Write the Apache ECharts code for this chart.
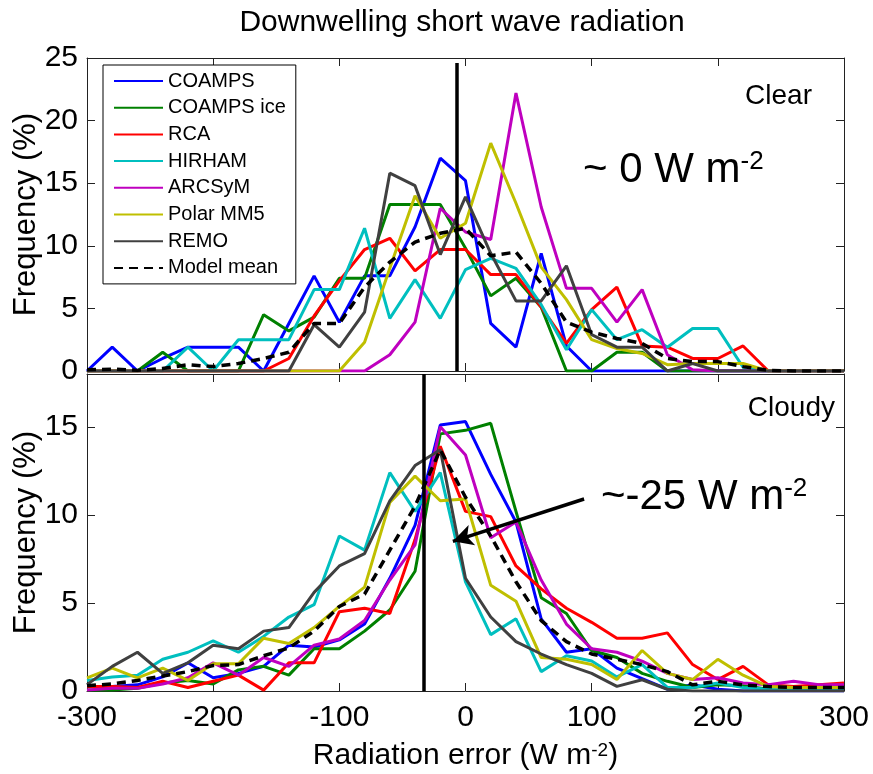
<!DOCTYPE html>
<html>
<head>
<meta charset="utf-8">
<title>Downwelling short wave radiation</title>
<script src="https://cdn.jsdelivr.net/npm/echarts@6/dist/echarts.min.js"></script>
<style>
  html, body { margin: 0; padding: 0; background: #fff; }
  #chart { width: 873px; height: 774px; }
</style>
</head>
<body>
<div id="chart"></div>
<script>
// bin centres (W m-2)
const xBins = [-300, -280, -260, -240, -220, -200, -180, -160, -140, -120, -100, -80, -60, -40, -20,
  0, 20, 40, 60, 80, 100, 120, 140, 160, 180, 200, 220, 240, 260, 280, 300];

const modelNames = ['COAMPS', 'COAMPS ice', 'RCA', 'HIRHAM', 'ARCSyM', 'Polar MM5', 'REMO', 'Model mean'];
const modelColors = ['#0000ff', '#008000', '#ff0000', '#00bfbf', '#bf00bf', '#bfbf00', '#404040', '#000000'];

// Clear sky frequencies (%)
const coampsClear = [0, 1.9, 0, 1.0, 1.9, 1.9, 1.9, 0, 3.8, 7.6, 3.9, 7.6, 7.6, 11.5, 17.0, 15.2, 3.8, 1.9, 9.4, 2.0, 0, 0, 0, 0, 0, 0, 0, 0, 0, 0, 0];
const iceClear = [0, 0, 0, 1.5, 0, 0, 0, 4.5, 3.2, 4.3, 7.4, 7.4, 13.3, 13.3, 13.3, 9.8, 6.0, 7.4, 5.1, 0, 0, 1.5, 1.5, 0, 0, 0, 0, 0, 0, 0, 0];
const rcaClear = [0, 0, 0, 0, 0, 0, 0, 0, 1.0, 4.4, 7.2, 9.7, 10.6, 8.0, 9.7, 9.7, 7.7, 7.7, 5.1, 2.2, 4.9, 6.7, 2.0, 1.9, 1.0, 1.0, 2.0, 0, 0, 0, 0];
const hirhamClear = [0, 0, 0, 0, 1.9, 0, 2.5, 2.5, 2.5, 6.5, 6.5, 11.4, 4.2, 7.3, 4.2, 8.1, 9.0, 8.2, 5.3, 1.7, 4.9, 2.5, 3.3, 1.9, 3.4, 3.4, 0.3, 0, 0, 0, 0];
const arcsymClear = [0, 0, 0, 0, 0, 0, 0, 0, 0, 0, 0, 0, 1.3, 3.9, 13.0, 11.1, 10.5, 22.2, 13.1, 6.6, 6.6, 3.9, 6.5, 1.3, 0.1, 0, 0, 0, 0, 0, 0];
const polarClear = [0, 0, 0, 0, 0, 0, 0, 0, 0, 0, 0, 2.3, 8.2, 14.0, 10.6, 11.8, 18.2, 13.4, 8.3, 5.7, 2.5, 1.8, 1.4, 0.5, 0.6, 0.6, 0.6, 0, 0, 0, 0];
const remoClear = [0, 0, 0, 0, 0, 0, 0, 0, 0, 3.7, 1.9, 4.7, 15.8, 14.8, 9.3, 13.9, 9.4, 5.6, 5.6, 8.4, 2.9, 1.9, 1.9, 0, 0.6, 0, 0, 0, 0, 0, 0];
const meanClear = [0.1, 0.15, 0.05, 0.2, 0.5, 0.35, 0.6, 1.0, 1.5, 3.8, 3.8, 6.7, 8.7, 10.3, 11.0, 11.4, 9.2, 9.5, 7.0, 3.9, 3.1, 2.6, 2.2, 1.0, 0.75, 0.75, 0.35, 0.05, 0, 0, 0];

// Cloudy sky frequencies (%)
const coampsCloudy = [0.25, 0.25, 0.35, 0.8, 1.6, 0.75, 1.0, 1.4, 2.6, 2.5, 2.9, 3.8, 6.4, 9.4, 15.1, 15.3, 12.3, 9.6, 4.1, 2.2, 2.4, 1.3, 0.7, 0.1, 0.35, 0.1, 0, 0, 0, 0, 0];
const iceCloudy = [0.05, 0.05, 0.15, 0.45, 0.6, 0.4, 1.2, 1.4, 0.9, 2.4, 2.4, 3.4, 4.6, 6.8, 14.6, 14.8, 15.2, 10.2, 5.3, 4.4, 2.3, 1.9, 1.0, 0.55, 0.2, 0.35, 0.3, 0.1, 0.1, 0.1, 0.1];
const rcaCloudy = [0.25, 0.25, 0.2, 0.55, 0.2, 0.55, 0.9, 0.05, 1.6, 1.6, 4.5, 4.7, 4.4, 8.6, 13.9, 10.2, 9.9, 7.1, 5.8, 4.7, 3.9, 3.0, 3.0, 3.3, 1.5, 0.65, 1.4, 0.35, 0.25, 0.35, 0.45];
const hirhamCloudy = [0.6, 0.8, 0.9, 1.8, 2.2, 2.85, 2.2, 3.1, 4.2, 4.9, 8.8, 8.0, 12.4, 10.2, 12.4, 6.2, 3.2, 4.1, 1.1, 2.0, 1.7, 0.8, 1.5, 0.2, 0.2, 0.45, 0.2, 0.1, 0.1, 0.1, 0.1];
const arcsymCloudy = [0.05, 0.15, 0.15, 0.4, 0.75, 1.6, 0.9, 1.9, 1.4, 2.6, 2.95, 4.0, 6.3, 8.3, 15.0, 13.4, 8.7, 9.6, 6.3, 3.8, 2.4, 2.2, 1.7, 1.0, 0.65, 0.75, 0.45, 0.35, 0.55, 0.35, 0.35];
const polarCloudy = [0.75, 1.3, 0.75, 1.3, 0.6, 1.55, 1.55, 3.0, 2.7, 3.6, 4.8, 5.9, 10.7, 12.2, 10.8, 10.9, 6.0, 5.1, 1.9, 1.8, 1.5, 0.65, 2.3, 1.0, 0.65, 1.8, 0.9, 0.25, 0.2, 0.2, 0.2];
const remoCloudy = [0.36, 1.4, 2.2, 1.0, 1.6, 2.6, 2.4, 3.4, 3.6, 5.6, 7.1, 7.8, 10.8, 12.8, 13.7, 6.4, 4.2, 2.8, 2.1, 1.5, 1.0, 0.26, 0.64, 0.1, 0, 0, 0, 0, 0, 0, 0];
const meanCloudy = [0.3, 0.4, 0.6, 0.85, 1.1, 1.45, 1.5, 2.0, 2.45, 3.4, 4.8, 5.5, 8.0, 10.5, 13.7, 11.0, 8.8, 6.2, 4.0, 2.8, 2.1, 1.8, 1.5, 1.1, 0.35, 0.55, 0.35, 0.25, 0.2, 0.2, 0.2];

// mean bias lines (W m-2) and arrow ends [x, %]
const clearBias = -7;
const cloudyBias = -33;
const arrowFrom = [94, 10.9];
const arrowTo = [-10, 8.5];

const clearSets = [coampsClear, iceClear, rcaClear, hirhamClear, arcsymClear, polarClear, remoClear, meanClear];
const cloudySets = [coampsCloudy, iceCloudy, rcaCloudy, hirhamCloudy, arcsymCloudy, polarCloudy, remoCloudy, meanCloudy];

const FONT = 'Liberation Sans, Arial, sans-serif';

function pairs(vals) {
  return xBins.map(function (x, i) { return [x, vals[i]]; });
}

function makeSeries(sets, axisIdx) {
  return sets.map(function (vals, i) {
    const isMean = i === sets.length - 1;
    return {
      name: modelNames[i],
      type: 'line',
      xAxisIndex: axisIdx,
      yAxisIndex: axisIdx,
      data: pairs(vals),
      symbol: 'none',
      smooth: false,
      lineStyle: {
        color: modelColors[i],
        width: isMean ? 3.5 : 3,
        type: isMean ? [9, 6] : 'solid'
      },
      itemStyle: { color: modelColors[i] },
      z: isMean ? 4 : 3
    };
  });
}

const clearSeries = makeSeries(clearSets, 0);
const cloudySeries = makeSeries(cloudySets, 2);

clearSeries[7].markLine = {
  silent: true,
  animation: false,
  symbol: ['none', 'none'],
  label: { show: false },
  lineStyle: { color: '#000', width: 3.5, type: 'solid' },
  data: [[{ coord: [clearBias, 24.6] }, { coord: [clearBias, 0] }]]
};

cloudySeries[7].markLine = {
  silent: true,
  animation: false,
  symbol: ['none', 'none'],
  label: { show: false },
  lineStyle: { color: '#000', width: 3.5, type: 'solid' },
  data: [
    [{ coord: [cloudyBias, 18] }, { coord: [cloudyBias, 0] }],
    [{ coord: arrowFrom, symbol: 'none' }, { coord: arrowTo, symbol: 'arrow', symbolSize: [16, 20] }]
  ]
};

function xAx(grid, pos, labels) {
  return {
    type: 'value', gridIndex: grid, position: pos,
    min: -300, max: 300, interval: 100,
    axisLine: { show: true, onZero: false, lineStyle: { color: '#222', width: 1 } },
    axisTick: { show: true, inside: true, length: 8, lineStyle: { color: '#222' } },
    axisLabel: { show: labels, fontSize: 30, color: '#000', fontFamily: FONT, margin: 12 },
    splitLine: { show: false }
  };
}

function yAx(grid, pos, max, labels) {
  return {
    type: 'value', gridIndex: grid, position: pos,
    min: 0, max: max, interval: 5,
    axisLine: { show: true, onZero: false, lineStyle: { color: '#222', width: 1 } },
    axisTick: { show: true, inside: true, length: 8, lineStyle: { color: '#222' } },
    axisLabel: { show: labels, fontSize: 30, color: '#000', fontFamily: FONT, margin: 9, showMaxLabel: max === 25 },
    splitLine: { show: false }
  };
}

const chart = echarts.init(document.getElementById('chart'), null, { renderer: 'canvas' });

const xAxes = [xAx(0, 'bottom', false), xAx(0, 'top', false), xAx(1, 'bottom', true), xAx(1, 'top', false)];
xAxes[2].name = 'Radiation error (W m{sup|-2})';
xAxes[2].nameLocation = 'middle';
xAxes[2].nameGap = 50;
xAxes[2].nameMoveOverlap = false;
xAxes[2].nameTextStyle = {
  fontSize: 30, color: '#000', fontFamily: FONT,
  rich: { sup: { fontSize: 19, fontFamily: FONT, color: '#000', verticalAlign: 'top' } }
};

const yAxes = [yAx(0, 'left', 25, true), yAx(0, 'right', 25, false), yAx(1, 'left', 18, true), yAx(1, 'right', 18, false)];
[0, 2].forEach(function (i) {
  yAxes[i].name = 'Frequency (%)';
  yAxes[i].nameLocation = 'middle';
  yAxes[i].nameGap = 45;
  yAxes[i].nameMoveOverlap = false;
  yAxes[i].nameTextStyle = { fontSize: 31, color: '#000', fontFamily: FONT };
});

let option = {
  animation: false,
  backgroundColor: '#fff',
  title: {
    text: 'Downwelling short wave radiation',
    left: 457, top: 3, textAlign: 'center',
    textStyle: { fontSize: 30, fontWeight: 'normal', color: '#000', fontFamily: FONT }
  },
  legend: {
    data: modelNames,
    orient: 'vertical',
    left: 103, top: 65,
    itemWidth: 49, itemHeight: 14, itemGap: 6.7,
    padding: [6, 10],
    backgroundColor: '#fff',
    borderColor: '#000', borderWidth: 1,
    itemStyle: { opacity: 0 },
    textStyle: { fontSize: 20, lineHeight: 20, color: '#000', fontFamily: FONT },
    selectedMode: false,
    z: 10
  },
  grid: [
    { left: 87, right: 29, top: 58, height: 313, show: false, outerBoundsMode: 'none', containLabel: false },
    { left: 87, right: 29, top: 374, height: 317, show: false, outerBoundsMode: 'none', containLabel: false }
  ],
  xAxis: xAxes,
  yAxis: yAxes,
  graphic: [
    { type: 'text', x: 812, y: 96, style: { text: 'Clear', fontSize: 28, fontFamily: FONT, fill: '#000', align: 'right', verticalAlign: 'middle' } },
    { type: 'text', x: 835, y: 408, style: { text: 'Cloudy', fontSize: 28, fontFamily: FONT, fill: '#000', align: 'right', verticalAlign: 'middle' } },
    {
      type: 'text', x: 583, y: 170,
      style: {
        text: '~ 0 W m{sup|-2}', fontSize: 42, fontFamily: FONT, fill: '#000', verticalAlign: 'middle',
        rich: { sup: { fontSize: 26, fontFamily: FONT, fill: '#000', verticalAlign: 'top' } }
      }
    },
    {
      type: 'text', x: 601, y: 497,
      style: {
        text: '~-25 W m{sup|-2}', fontSize: 42, fontFamily: FONT, fill: '#000', verticalAlign: 'middle',
        rich: { sup: { fontSize: 26, fontFamily: FONT, fill: '#000', verticalAlign: 'top' } }
      }
    }
  ],
  series: clearSeries.concat(cloudySeries)
};

chart.setOption(option);
</script>
</body>
</html>
